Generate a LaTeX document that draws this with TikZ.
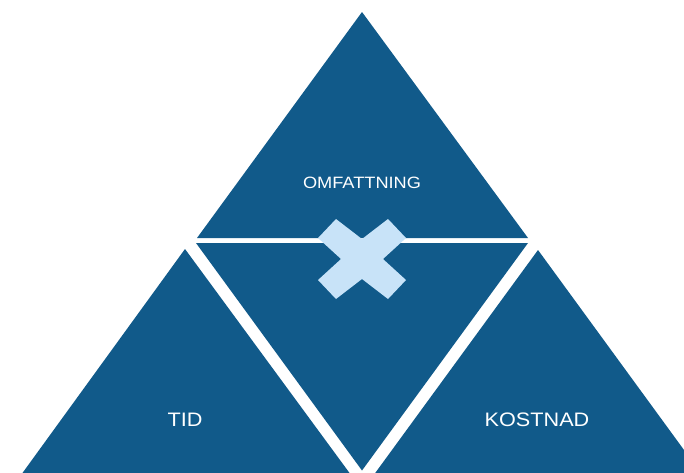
\documentclass[tikz,border=0pt]{standalone}
\usepackage{fontspec}
\setmainfont{Liberation Sans}
\definecolor{darkblue}{HTML}{115A8A}
\definecolor{lightblue}{HTML}{C8E3F8}
\begin{document}
\begin{tikzpicture}[x=1pt,y=-1pt,
  tri/.style={fill=darkblue, draw=none},
  lbl/.style={text=white, inner sep=0pt, xscale=1.11}]
\useasboundingbox (0,0) rectangle (684,472);
\fill[white] (0,0) rectangle (684,472);
% triangles
\fill[tri] (362,12) -- (197,238) -- (528,238) -- cycle;
\fill[tri] (196,243) -- (528,243) -- (362,470.5) -- cycle;
\fill[tri] (185,249) -- (21,475) -- (351,475) -- cycle;
\fill[tri] (538,250) -- (373,476) -- (703,476) -- cycle;
% cross
\fill[lightblue] (318,238) -- (336,219) -- (362,239) -- (388,219) -- (406,238)
  -- (383,259) -- (406,280) -- (388,299) -- (362,279) -- (336,299)
  -- (318,280) -- (341,259) -- cycle;
% labels
\node[lbl, font=\fontsize{16.4}{18}\selectfont] (omf) at (362,183) {OMFATTNING};
\node[lbl, font=\fontsize{19.5}{22}\selectfont] (tid) at (185,420) {TID};
\node[lbl, font=\fontsize{19.5}{22}\selectfont] (kos) at (537,420) {KOSTNAD};
\end{tikzpicture}
\end{document}
